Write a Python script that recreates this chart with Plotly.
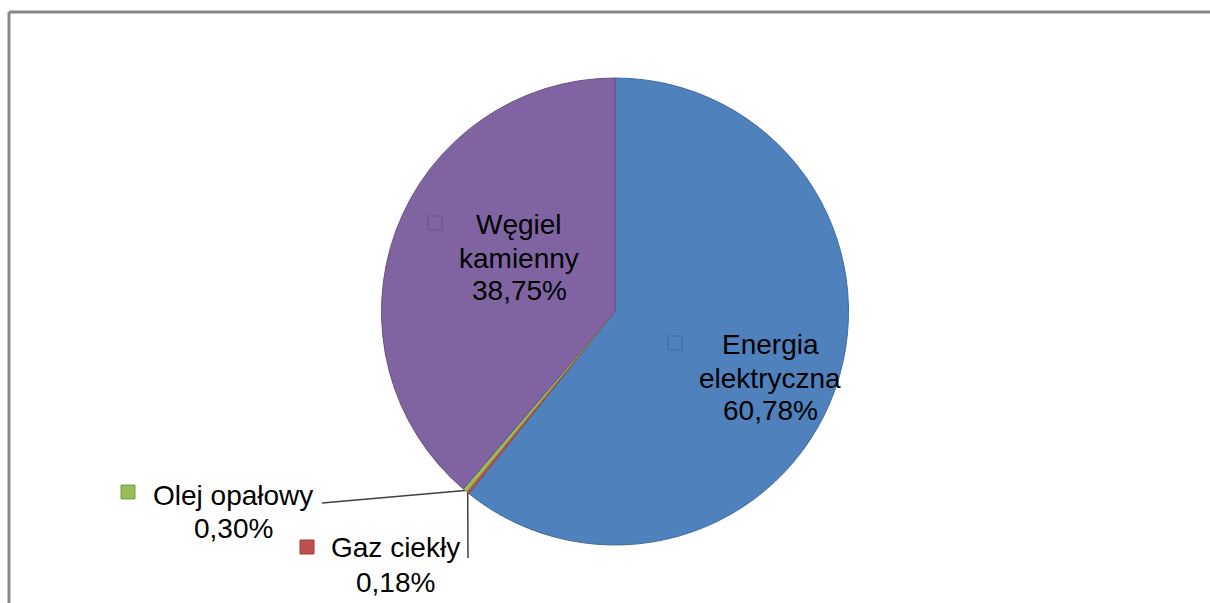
import plotly.graph_objects as go
import math

# Energy carriers and their share (%)
labels = ["Energia elektryczna", "Gaz ciekły", "Olej opałowy", "Węgiel kamienny"]
shares = [60.78, 0.18, 0.30, 38.75]
share_text = ["60,78%", "0,18%", "0,30%", "38,75%"]
colors = ["#4F81BD", "#C0504D", "#9BBB59", "#8064A2"]
edge_colors = ["#3F6A9C", "#9C3E3B", "#7E9B45", "#665085"]

W, H = 1210, 603
CX, CY, R = 615, 311.5, 233.5


def px(x):
    return x / W


def py(y):
    return 1 - y / H


fig = go.Figure(go.Pie(
    labels=labels,
    values=shares,
    sort=False,
    direction="clockwise",
    rotation=0,
    textinfo="none",
    hoverinfo="label+percent",
    showlegend=False,
    marker=dict(colors=colors, line=dict(color=edge_colors, width=1)),
    domain=dict(x=[px(CX - R), px(CX + R)], y=[py(CY + R), py(CY - R)]),
))

# label blocks: centre x, baselines of each line, legend key box (x0, y0), key filled?
label_layout = {
    "Węgiel kamienny": dict(cx=519, lines=["Węgiel", "kamienny"], base=[235, 268, 300],
                            key=(428, 216), filled=False),
    "Energia elektryczna": dict(cx=770, lines=["Energia", "elektryczna"], base=[355, 388, 420],
                                key=(668, 336), filled=False),
    "Olej opałowy": dict(cx=233, lines=["Olej opałowy"], base=[505, 538],
                         key=(121, 485), filled=True),
    "Gaz ciekły": dict(cx=395, lines=["Gaz ciekły"], base=[557, 592],
                       key=(300, 540), filled=True),
}

font = dict(family="Liberation Sans, Arial, sans-serif", size=28, color="#000000")
annotations = []
shapes = []
for name, val_txt, col, edge in zip(labels, share_text, colors, edge_colors):
    spec = label_layout[name]
    texts = spec["lines"] + [val_txt]
    for t, b in zip(texts, spec["base"]):
        annotations.append(dict(
            x=px(spec["cx"]), y=py(b - 10), xref="paper", yref="paper",
            text=t, showarrow=False, xanchor="center", yanchor="middle", font=font,
        ))
    kx, ky = spec["key"]
    shapes.append(dict(
        type="rect", xref="paper", yref="paper",
        x0=px(kx), x1=px(kx + 14), y0=py(ky), y1=py(ky + 14),
        fillcolor=col if spec["filled"] else "rgba(0,0,0,0)",
        line=dict(color=edge, width=1),
    ))

# leader lines for the two thin slices, starting at the rim at each slice's mid-angle
total = sum(shares)
cum = 0.0
mid_angle = {}
for name, v in zip(labels, shares):
    mid_angle[name] = (cum + v / 2) / total * 2 * math.pi
    cum += v

leader_ends = {"Olej opałowy": [(322, 503)], "Gaz ciekły": [(468, 558)]}
for name, pts in leader_ends.items():
    a = mid_angle[name]
    sx, sy = CX + R * math.sin(a), CY - R * math.cos(a)
    path = f"M {px(sx)} {py(sy)}"
    for (x, y) in pts:
        path += f" L {px(x)} {py(y)}"
    shapes.append(dict(type="path", xref="paper", yref="paper", path=path,
                       line=dict(color="#404040", width=1.5)))

# chart frame (top and left edges visible)
shapes.append(dict(type="line", xref="paper", yref="paper",
                   x0=px(9), x1=1, y0=py(12), y1=py(12), line=dict(color="#878787", width=3)))
shapes.append(dict(type="line", xref="paper", yref="paper",
                   x0=px(9), x1=px(9), y0=py(12), y1=0, line=dict(color="#878787", width=3)))

fig.update_layout(
    width=W, height=H,
    margin=dict(l=0, r=0, t=0, b=0),
    paper_bgcolor="white", plot_bgcolor="white",
    annotations=annotations, shapes=shapes,
)

fig.write_html("out.html")
